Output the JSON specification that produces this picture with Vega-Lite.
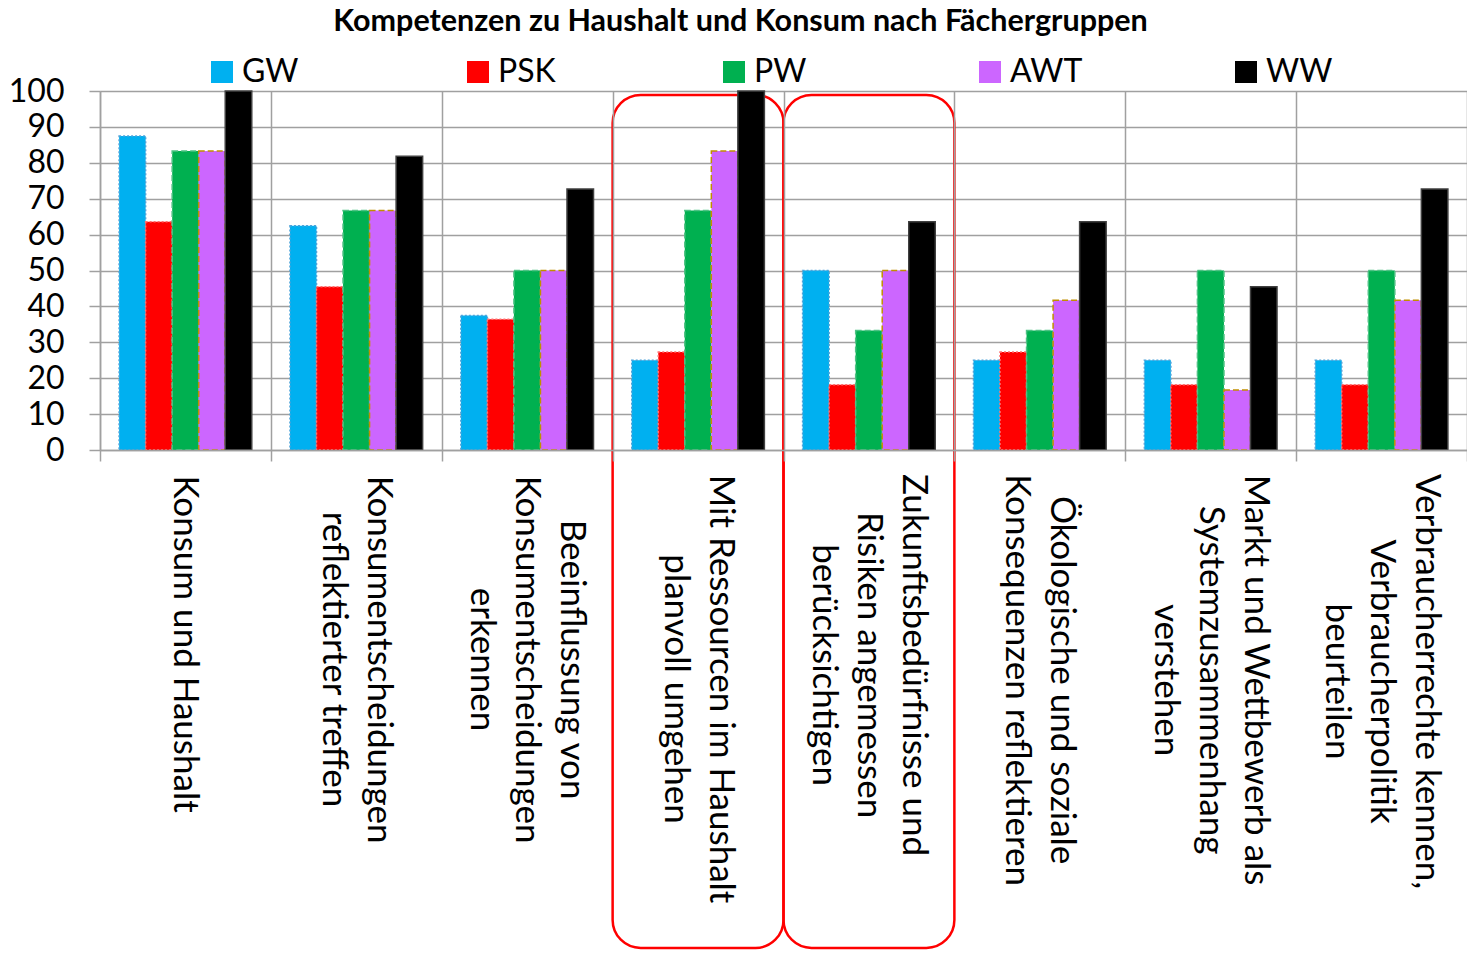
{
  "$schema": "https://vega.github.io/schema/vega-lite/v6.json",
  "autosize": {"type": "none"},
  "width": 1367,
  "height": 359,
  "padding": {"left": 100, "top": 91, "right": 0, "bottom": 504},
  "background": "white",
  "config": {"view": {"stroke": null}, "font": "Lato"},
  "title": {
    "text": "Kompetenzen zu Haushalt und Konsum nach Fächergruppen",
    "font": "Lato", "fontSize": 30.5, "fontWeight": "bold", "color": "#000000",
    "anchor": "middle", "frame": "group", "dx": -43, "offset": 19
  },
  "datasets": {
    "werte": [
      {"Kategorie": "Konsum und Haushalt", "Gruppe": "GW", "Wert": 87.5},
      {"Kategorie": "Konsum und Haushalt", "Gruppe": "PSK", "Wert": 63.6},
      {"Kategorie": "Konsum und Haushalt", "Gruppe": "PW", "Wert": 83.3},
      {"Kategorie": "Konsum und Haushalt", "Gruppe": "AWT", "Wert": 83.3},
      {"Kategorie": "Konsum und Haushalt", "Gruppe": "WW", "Wert": 100},
      {"Kategorie": "Konsumentscheidungen|reflektierter treffen", "Gruppe": "GW", "Wert": 62.5},
      {"Kategorie": "Konsumentscheidungen|reflektierter treffen", "Gruppe": "PSK", "Wert": 45.5},
      {"Kategorie": "Konsumentscheidungen|reflektierter treffen", "Gruppe": "PW", "Wert": 66.7},
      {"Kategorie": "Konsumentscheidungen|reflektierter treffen", "Gruppe": "AWT", "Wert": 66.7},
      {"Kategorie": "Konsumentscheidungen|reflektierter treffen", "Gruppe": "WW", "Wert": 81.8},
      {"Kategorie": "Beeinflussung von|Konsumentscheidungen|erkennen", "Gruppe": "GW", "Wert": 37.5},
      {"Kategorie": "Beeinflussung von|Konsumentscheidungen|erkennen", "Gruppe": "PSK", "Wert": 36.4},
      {"Kategorie": "Beeinflussung von|Konsumentscheidungen|erkennen", "Gruppe": "PW", "Wert": 50},
      {"Kategorie": "Beeinflussung von|Konsumentscheidungen|erkennen", "Gruppe": "AWT", "Wert": 50},
      {"Kategorie": "Beeinflussung von|Konsumentscheidungen|erkennen", "Gruppe": "WW", "Wert": 72.7},
      {"Kategorie": "Mit Ressourcen im Haushalt|planvoll umgehen", "Gruppe": "GW", "Wert": 25},
      {"Kategorie": "Mit Ressourcen im Haushalt|planvoll umgehen", "Gruppe": "PSK", "Wert": 27.3},
      {"Kategorie": "Mit Ressourcen im Haushalt|planvoll umgehen", "Gruppe": "PW", "Wert": 66.7},
      {"Kategorie": "Mit Ressourcen im Haushalt|planvoll umgehen", "Gruppe": "AWT", "Wert": 83.3},
      {"Kategorie": "Mit Ressourcen im Haushalt|planvoll umgehen", "Gruppe": "WW", "Wert": 100},
      {"Kategorie": "Zukunftsbedürfnisse und|Risiken angemessen|berücksichtigen", "Gruppe": "GW", "Wert": 50},
      {"Kategorie": "Zukunftsbedürfnisse und|Risiken angemessen|berücksichtigen", "Gruppe": "PSK", "Wert": 18.2},
      {"Kategorie": "Zukunftsbedürfnisse und|Risiken angemessen|berücksichtigen", "Gruppe": "PW", "Wert": 33.3},
      {"Kategorie": "Zukunftsbedürfnisse und|Risiken angemessen|berücksichtigen", "Gruppe": "AWT", "Wert": 50},
      {"Kategorie": "Zukunftsbedürfnisse und|Risiken angemessen|berücksichtigen", "Gruppe": "WW", "Wert": 63.6},
      {"Kategorie": "Ökologische und soziale|Konsequenzen reflektieren", "Gruppe": "GW", "Wert": 25},
      {"Kategorie": "Ökologische und soziale|Konsequenzen reflektieren", "Gruppe": "PSK", "Wert": 27.3},
      {"Kategorie": "Ökologische und soziale|Konsequenzen reflektieren", "Gruppe": "PW", "Wert": 33.3},
      {"Kategorie": "Ökologische und soziale|Konsequenzen reflektieren", "Gruppe": "AWT", "Wert": 41.7},
      {"Kategorie": "Ökologische und soziale|Konsequenzen reflektieren", "Gruppe": "WW", "Wert": 63.6},
      {"Kategorie": "Markt und Wettbewerb als|Systemzusammenhang|verstehen", "Gruppe": "GW", "Wert": 25},
      {"Kategorie": "Markt und Wettbewerb als|Systemzusammenhang|verstehen", "Gruppe": "PSK", "Wert": 18.2},
      {"Kategorie": "Markt und Wettbewerb als|Systemzusammenhang|verstehen", "Gruppe": "PW", "Wert": 50},
      {"Kategorie": "Markt und Wettbewerb als|Systemzusammenhang|verstehen", "Gruppe": "AWT", "Wert": 16.7},
      {"Kategorie": "Markt und Wettbewerb als|Systemzusammenhang|verstehen", "Gruppe": "WW", "Wert": 45.5},
      {"Kategorie": "Verbraucherrechte kennen,|Verbraucherpolitik|beurteilen", "Gruppe": "GW", "Wert": 25},
      {"Kategorie": "Verbraucherrechte kennen,|Verbraucherpolitik|beurteilen", "Gruppe": "PSK", "Wert": 18.2},
      {"Kategorie": "Verbraucherrechte kennen,|Verbraucherpolitik|beurteilen", "Gruppe": "PW", "Wert": 50},
      {"Kategorie": "Verbraucherrechte kennen,|Verbraucherpolitik|beurteilen", "Gruppe": "AWT", "Wert": 41.7},
      {"Kategorie": "Verbraucherrechte kennen,|Verbraucherpolitik|beurteilen", "Gruppe": "WW", "Wert": 72.7}
    ],
    "markiert": [
      {"Kategorie": "Mit Ressourcen im Haushalt|planvoll umgehen"},
      {"Kategorie": "Zukunftsbedürfnisse und|Risiken angemessen|berücksichtigen"}
    ]
  },
  "encoding": {
    "x": {
      "field": "Kategorie", "type": "nominal",
      "scale": {
        "domain": [
          "Konsum und Haushalt",
          "Konsumentscheidungen|reflektierter treffen",
          "Beeinflussung von|Konsumentscheidungen|erkennen",
          "Mit Ressourcen im Haushalt|planvoll umgehen",
          "Zukunftsbedürfnisse und|Risiken angemessen|berücksichtigen",
          "Ökologische und soziale|Konsequenzen reflektieren",
          "Markt und Wettbewerb als|Systemzusammenhang|verstehen",
          "Verbraucherrechte kennen,|Verbraucherpolitik|beurteilen"
        ],
        "paddingInner": 0, "paddingOuter": 0
      },
      "axis": {
        "title": null, "labels": false,
        "tickBand": "extent", "tickSize": 11, "tickColor": "#A0A0A0", "tickWidth": 1.5,
        "domainColor": "#A0A0A0", "domainWidth": 1.5,
        "grid": true, "gridColor": "#A0A0A0", "gridWidth": 1.5
      }
    }
  },
  "layer": [
    {
      "data": {"name": "markiert"},
      "mark": {"type": "rect", "filled": false, "stroke": "#FF0000", "strokeWidth": 2.5, "cornerRadius": 28},
      "encoding": {
        "y": {
          "datum": 98.9, "type": "quantitative",
          "scale": {"domain": [0, 100], "nice": false},
          "axis": {
            "title": null, "values": [0, 10, 20, 30, 40, 50, 60, 70, 80, 90, 100],
            "labelFont": "Lato", "labelFontSize": 32, "labelPadding": 25, "labelColor": "#000000",
            "labelOverlap": false,
            "tickSize": 11, "tickColor": "#A0A0A0", "tickWidth": 1.5,
            "domainColor": "#A0A0A0", "domainWidth": 1.5,
            "grid": true, "gridColor": "#A0A0A0", "gridWidth": 1.5
          }
        },
        "y2": {"datum": -138.7}
      }
    },
    {
      "data": {"name": "werte"},
      "mark": {"type": "bar", "strokeWidth": 1.5},
      "encoding": {
        "xOffset": {
          "field": "Gruppe", "type": "nominal",
          "scale": {"domain": ["GW", "PSK", "PW", "AWT", "WW"], "paddingInner": 0, "paddingOuter": 0.72}
        },
        "y": {
          "field": "Wert", "type": "quantitative",
          "scale": {"domain": [0, 100], "nice": false},
          "axis": {
            "title": null, "values": [0, 10, 20, 30, 40, 50, 60, 70, 80, 90, 100],
            "labelFont": "Lato", "labelFontSize": 32, "labelPadding": 25, "labelColor": "#000000",
            "labelOverlap": false,
            "tickSize": 11, "tickColor": "#A0A0A0", "tickWidth": 1.5,
            "domainColor": "#A0A0A0", "domainWidth": 1.5,
            "grid": true, "gridColor": "#A0A0A0", "gridWidth": 1.5
          }
        },
        "color": {
          "field": "Gruppe", "type": "nominal",
          "scale": {"domain": ["GW", "PSK", "PW", "AWT", "WW"], "range": ["#00B0F0", "#FF0000", "#00B050", "#CC66FF", "#000000"]},
          "legend": {
            "title": null, "orient": "none", "legendX": 106, "legendY": -35,
            "direction": "horizontal", "columns": 5, "gridAlign": "all", "columnPadding": 147,
            "padding": 0, "symbolType": "square", "symbolSize": 484, "symbolStrokeWidth": 0,
            "labelFont": "Lato", "labelFontSize": 32, "labelOffset": 4, "labelColor": "#000000"
          }
        },
        "stroke": {
          "field": "Gruppe", "type": "nominal",
          "scale": {"domain": ["GW", "PSK", "PW", "AWT", "WW"], "range": ["#4FA3D9", "#FF7070", "#4CC283", "#C09000", "#404040"]},
          "legend": null
        },
        "strokeDash": {
          "field": "Gruppe", "type": "nominal",
          "scale": {"domain": ["GW", "PSK", "PW", "AWT", "WW"], "range": [[2, 2], [2, 2], [6, 3], [6, 3], [1, 0]]},
          "legend": null
        }
      }
    },
    {
      "data": {"name": "werte"},
      "transform": [{"filter": "datum.Gruppe == 'GW'"}],
      "mark": {
        "type": "text", "angle": 90, "align": "center", "baseline": "middle",
        "font": "Lato", "fontSize": 35, "lineBreak": "|", "lineHeight": 45, "color": "#000000",
        "dx": {"expr": "indexof(datum.Kategorie, 'Konsum und') == 0 ? -17 : indexof(datum.Kategorie, 'Konsumentsch') == 0 ? -1.5 : indexof(datum.Kategorie, 'Beeinfl') == 0 ? -1.5 : indexof(datum.Kategorie, 'Mit Ress') == 0 ? 28 : indexof(datum.Kategorie, 'Zukunft') == 0 ? 4 : indexof(datum.Kategorie, 'kologische') >= 0 ? 19 : indexof(datum.Kategorie, 'Markt') == 0 ? 19 : 20.5"},
        "dy": {"expr": "-(length(split(datum.Kategorie, '|')) - 1) * 22.5"}
      },
      "encoding": {
        "text": {"field": "Kategorie", "type": "nominal"},
        "y": {
          "datum": -58.8, "type": "quantitative",
          "scale": {"domain": [0, 100], "nice": false},
          "axis": {
            "title": null, "values": [0, 10, 20, 30, 40, 50, 60, 70, 80, 90, 100],
            "labelFont": "Lato", "labelFontSize": 32, "labelPadding": 25, "labelColor": "#000000",
            "labelOverlap": false,
            "tickSize": 11, "tickColor": "#A0A0A0", "tickWidth": 1.5,
            "domainColor": "#A0A0A0", "domainWidth": 1.5,
            "grid": true, "gridColor": "#A0A0A0", "gridWidth": 1.5
          }
        }
      }
    }
  ]
}
